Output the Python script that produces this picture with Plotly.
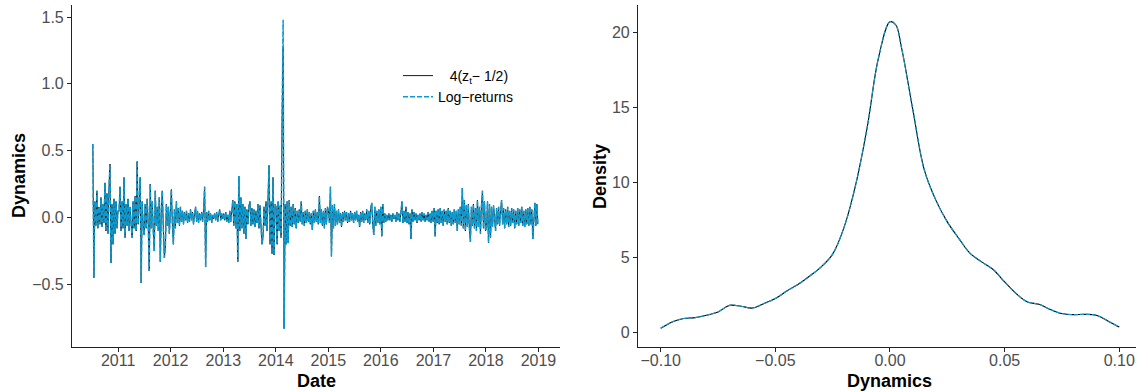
import pandas as pd
import plotly.graph_objects as go

# Weekly log-returns, one list per calendar year (values on the Friday of each week)
r2010 = [0.55, -0.45, 0.12, -0.06, 0.20, -0.08, 0.08, -0.05, 0.15, -0.07, 0.10, -0.04, 0.26,
         -0.10, 0.18, -0.12, 0.22, 0.40, -0.34, 0.10, -0.20, 0.14, -0.12, 0.12, -0.08, 0.05]
r2011 = [0.05, 0.23, -0.10, 0.12, -0.08, 0.30, -0.15, 0.10, -0.06, 0.14, -0.10, 0.08, -0.05,
         -0.15, 0.12, -0.08, 0.16, -0.10, 0.42, -0.05, 0.10, 0.30, -0.49, 0.12, -0.06, -0.13,
         0.10, -0.08, 0.14, -0.05, -0.40, 0.25, -0.08, 0.12, -0.10, -0.25, 0.20, -0.06, 0.08,
         -0.10, 0.15, -0.33, 0.06, 0.20, -0.08, -0.30, -0.23, 0.10, -0.06, 0.08, -0.12, 0.05]
r2012 = [0.21, -0.05, -0.20, 0.06, -0.08, 0.12, -0.04, 0.07, -0.06, 0.08, -0.03, 0.05, -0.05,
         0.04, -0.02, 0.05, -0.04, 0.03, -0.03, 0.06, -0.02, 0.04, -0.05, 0.03, 0.08, -0.03,
         0.05, -0.04, 0.03, -0.02, 0.04, -0.03, 0.05, 0.23, -0.37, 0.04, -0.03, 0.05, -0.02,
         0.03, -0.04, 0.02, -0.01, 0.03, -0.02, 0.04, -0.03, 0.02, 0.06, -0.02, 0.03, -0.01]
r2013 = [0.03, -0.02, 0.04, -0.03, 0.02, -0.04, 0.05, -0.03, 0.06, 0.13, -0.06, 0.12, -0.08,
         0.10, -0.33, 0.31, -0.10, 0.15, -0.08, 0.10, -0.12, 0.08, -0.16, 0.06, -0.05, 0.09,
         0.12, -0.06, 0.07, -0.05, 0.06, -0.07, 0.05, -0.04, 0.10, -0.08, 0.09, -0.10, -0.20,
         -0.15, 0.08, -0.06, 0.12, -0.10, 0.15, 0.39, -0.20, 0.12, -0.27, 0.30, -0.28, 0.10]
r2014 = [0.08, -0.20, 0.12, -0.10, 0.09, -0.15, 0.78, 1.48, -0.83, 0.10, -0.20, 0.12, -0.19,
         0.13, -0.06, 0.08, -0.07, 0.10, -0.05, 0.07, -0.08, 0.05, -0.04, 0.06, -0.03, 0.12,
         -0.05, 0.04, -0.06, 0.05, -0.04, 0.06, -0.03, 0.04, -0.05, 0.03, -0.09, 0.05, -0.04,
         0.06, -0.03, 0.04, -0.05, 0.16, -0.04, 0.06, -0.06, 0.05, -0.08, 0.07, -0.05, 0.08]
r2015 = [0.05, -0.04, 0.23, -0.29, 0.09, -0.08, 0.10, -0.06, 0.05, -0.05, 0.06, -0.04, 0.03,
         -0.07, 0.04, -0.03, 0.05, -0.02, 0.04, -0.04, 0.03, -0.03, 0.05, -0.02, 0.03, -0.04,
         0.04, -0.02, 0.05, -0.03, 0.02, -0.07, 0.04, -0.03, 0.05, -0.04, 0.03, -0.02, 0.06,
         -0.04, 0.05, -0.05, 0.07, 0.11, -0.05, -0.13, 0.08, -0.06, 0.05, -0.04, 0.06, -0.05]
r2016 = [0.08, -0.14, 0.10, -0.04, 0.03, -0.03, 0.02, -0.02, 0.03, -0.02, 0.02, -0.03, 0.03,
         -0.01, 0.02, -0.03, 0.04, -0.02, 0.03, -0.03, 0.04, 0.12, -0.04, 0.05, -0.03, 0.08,
         -0.04, 0.04, -0.05, 0.03, -0.16, 0.06, -0.03, 0.04, -0.02, 0.03, -0.04, 0.02, -0.02,
         0.03, -0.03, 0.04, -0.02, 0.03, -0.03, 0.02, -0.02, 0.04, -0.03, 0.03, -0.04, 0.05, -0.03]
r2017 = [0.07, -0.14, 0.05, -0.04, 0.06, -0.05, 0.07, -0.04, 0.05, -0.06, 0.06, -0.03, 0.05,
         -0.05, 0.07, -0.04, 0.05, -0.06, 0.04, -0.05, 0.06, -0.04, 0.05, -0.10, 0.06, -0.05,
         0.08, -0.06, 0.22, -0.08, 0.13, -0.10, 0.09, -0.07, 0.10, -0.08, -0.18, 0.08, -0.06,
         0.10, -0.08, 0.07, -0.10, 0.13, -0.07, 0.08, -0.12, 0.09, 0.20, -0.08, 0.12, -0.10]
r2018 = [-0.08, 0.12, -0.19, 0.10, -0.15, 0.08, -0.07, 0.09, -0.06, -0.10, 0.07, -0.05, 0.08,
         -0.06, 0.06, 0.13, -0.05, 0.07, -0.08, 0.06, -0.05, 0.08, -0.07, 0.05, -0.06, 0.07,
         -0.04, 0.06, -0.08, 0.05, -0.05, 0.07, -0.06, 0.06, -0.04, 0.08, -0.06, 0.05, -0.07,
         0.06, -0.05, 0.07, -0.06, 0.08, -0.05, 0.06, -0.16, 0.05, 0.11, -0.06, 0.10, -0.05]

# Peak of the transformed series 4(z_t - 1/2) on the crash week
z_peak = 1.27

# Kernel density estimate of the dynamics
density_x = [-0.100, -0.095, -0.090, -0.085, -0.080, -0.075, -0.070, -0.065, -0.060, -0.055,
             -0.050, -0.045, -0.040, -0.035, -0.030, -0.025, -0.020, -0.015, -0.010, -0.005,
             0.000, 0.0025, 0.005, 0.010, 0.015, 0.020, 0.025, 0.030, 0.035, 0.040,
             0.045, 0.050, 0.055, 0.060, 0.065, 0.070, 0.075, 0.080, 0.085, 0.090,
             0.095, 0.100]
density_y = [0.25, 0.67, 0.90, 0.96, 1.12, 1.34, 1.78, 1.72, 1.60, 1.90,
             2.23, 2.74, 3.19, 3.74, 4.35, 5.20, 7.00, 9.80, 13.6, 18.3,
             20.7, 20.5, 19.0, 14.8, 10.8, 8.8, 7.35, 6.25, 5.24, 4.68,
             4.17, 3.34, 2.57, 2.00, 1.85, 1.50, 1.23, 1.16, 1.18, 1.12,
             0.74, 0.33]

year_ticks = ["2011", "2012", "2013", "2014", "2015", "2016", "2017", "2018", "2019"]

log_returns = r2010 + r2011 + r2012 + r2013 + r2014 + r2015 + r2016 + r2017 + r2018
dates = pd.date_range("2010-07-09", periods=len(log_returns), freq="W-FRI")
z_dynamics = list(log_returns)
z_dynamics[z_dynamics.index(max(z_dynamics))] = z_peak

W, H = 1138, 392
BLUE = "#0A9BD2"
FONT = "Liberation Sans, Arial, sans-serif"
TICK_GREY = "#4D4D4D"
AXIS_COL = "#222222"


def px_x(p):
    return p / W


def px_y(p):
    return 1 - p / H


fig = go.Figure()

fig.add_trace(go.Scatter(
    x=dates, y=z_dynamics, mode="lines",
    name="&nbsp;&nbsp;&nbsp;4(z<sub>t</sub>\u2212 1/2)",
    line=dict(color="black", width=0.9), xaxis="x", yaxis="y"))
fig.add_trace(go.Scatter(
    x=dates, y=log_returns, mode="lines", name="Log\u2212returns",
    line=dict(color=BLUE, width=1.5, dash="5px,2px"), xaxis="x", yaxis="y"))

fig.add_trace(go.Scatter(
    x=density_x, y=density_y, mode="lines", showlegend=False,
    line=dict(color="black", width=1.1, shape="spline"), xaxis="x2", yaxis="y2"))
fig.add_trace(go.Scatter(
    x=density_x, y=density_y, mode="lines", showlegend=False,
    line=dict(color=BLUE, width=1.2, dash="4px,2px", shape="spline"), xaxis="x2", yaxis="y2"))

axis_common = dict(
    showline=True, linecolor=AXIS_COL, linewidth=1.1, ticks="outside", ticklen=4,
    tickwidth=1.1, tickcolor=AXIS_COL, showgrid=False, zeroline=False,
    tickfont=dict(family=FONT, size=16, color=TICK_GREY), automargin=False)

y_dom = [px_y(347), px_y(5)]

fig.update_layout(
    width=W, height=H,
    margin=dict(l=0, r=0, t=0, b=0),
    paper_bgcolor="white", plot_bgcolor="white",
    font=dict(family=FONT),
    xaxis=dict(domain=[px_x(72), px_x(560)], anchor="y", type="date",
               range=["2010-02-14", "2019-05-31"],
               tickvals=[f"{y}-01-01" for y in year_ticks], ticktext=year_ticks,
               ticklabelstandoff=-5, **axis_common),
    yaxis=dict(domain=y_dom, anchor="x", range=[-0.968, 1.59],
               tickvals=[-0.5, 0, 0.5, 1.0, 1.5], tickformat=".1f", **axis_common),
    xaxis2=dict(domain=[px_x(638), px_x(1136)], anchor="y2", range=[-0.1099, 0.1073],
                tickvals=[-0.1, -0.05, 0, 0.05, 0.1], tickformat=".2f",
                ticklabelstandoff=-5, **axis_common),
    yaxis2=dict(domain=y_dom, anchor="x2", range=[-1.0, 21.82],
                tickvals=[0, 5, 10, 15, 20], **axis_common),
    legend=dict(x=px_x(398), y=px_y(60), xanchor="left", yanchor="top",
                bgcolor="rgba(0,0,0,0)", font=dict(family=FONT, size=14, color="black"),
                itemwidth=30, tracegroupgap=0),
)

title_font = dict(family=FONT, size=18, color="black")
annotations = [
    dict(text="<b>Date</b>", x=px_x(316), y=px_y(381)),
    dict(text="<b>Dynamics</b>", x=px_x(889), y=px_y(381)),
    dict(text="<b>Dynamics</b>", x=px_x(19), y=px_y(176), textangle=-90),
    dict(text="<b>Density</b>", x=px_x(600), y=px_y(177), textangle=-90),
]
for a in annotations:
    fig.add_annotation(xref="paper", yref="paper", showarrow=False,
                       xanchor="center", yanchor="middle", font=title_font, **a)

fig.write_html("out.html")
